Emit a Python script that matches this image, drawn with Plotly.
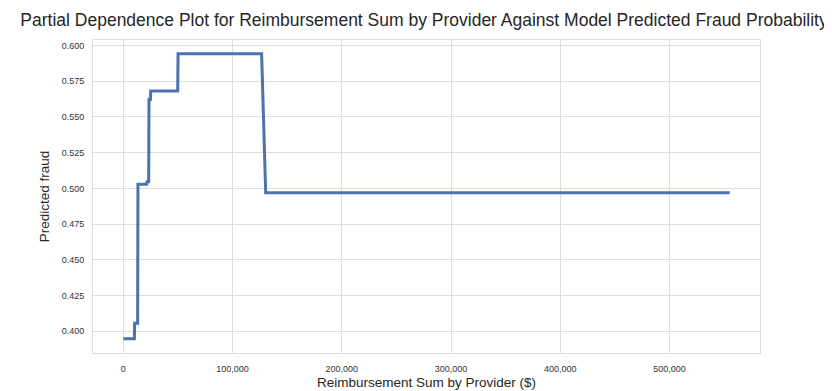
import plotly.graph_objects as go

reimbursement_sum = [0, 10100, 10400, 13100, 13400, 21400, 21700, 23200, 23500, 24800, 25100,
                     49800, 50100, 126600, 130300, 555000]
predicted_fraud = [0.3948, 0.3948, 0.4056, 0.4056, 0.5029, 0.5029, 0.5047, 0.5047, 0.5622, 0.5622,
                   0.5682, 0.5682, 0.5941, 0.5941, 0.4970, 0.4970]

x_ticks = [0, 100000, 200000, 300000, 400000, 500000]
x_tick_labels = ["0", "100,000", "200,000", "300,000", "400,000", "500,000"]
y_ticks = [0.400, 0.425, 0.450, 0.475, 0.500, 0.525, 0.550, 0.575, 0.600]
y_tick_labels = ["0.400", "0.425", "0.450", "0.475", "0.500", "0.525", "0.550", "0.575", "0.600"]

fig = go.Figure()
fig.add_trace(go.Scatter(x=reimbursement_sum, y=predicted_fraud, mode="lines",
                         line=dict(color="#4C72B0", width=3), showlegend=False))

font = "Liberation Sans, Arial, sans-serif"
grid = "#dedede"
fig.update_layout(
    width=832, height=391,
    margin=dict(l=85, r=80, t=32, b=35),
    paper_bgcolor="white", plot_bgcolor="white",
    title=dict(text="Partial Dependence Plot for Reimbursement Sum by Provider Against Model Predicted Fraud Probability",
               x=0.5, xanchor="center", xref="container", y=0.969, yanchor="middle",
               font=dict(family=font, size=17.5, color="#262626")),
    font=dict(family=font),
)
fig.update_xaxes(range=[-27750, 582750], tickvals=x_ticks, ticktext=x_tick_labels,
                 showgrid=True, gridcolor=grid, gridwidth=1, zeroline=False,
                 showline=True, linecolor=grid, mirror=True,
                 ticks="outside", ticklen=7, tickcolor="rgba(0,0,0,0)",
                 tickfont=dict(size=9, color="#333333"),
                 title=dict(text="Reimbursement Sum by Provider ($)", font=dict(size=13.5, color="#262626"), standoff=4))
fig.update_yaxes(range=[0.3848, 0.6038], tickvals=y_ticks, ticktext=y_tick_labels,
                 showgrid=True, gridcolor=grid, gridwidth=1, zeroline=False,
                 showline=True, linecolor=grid, mirror=True,
                 ticks="outside", ticklen=6, tickcolor="rgba(0,0,0,0)",
                 tickfont=dict(size=9, color="#333333"),
                 title=dict(text="Predicted fraud", font=dict(size=13.5, color="#262626"), standoff=8))

fig.write_html("out.html")
